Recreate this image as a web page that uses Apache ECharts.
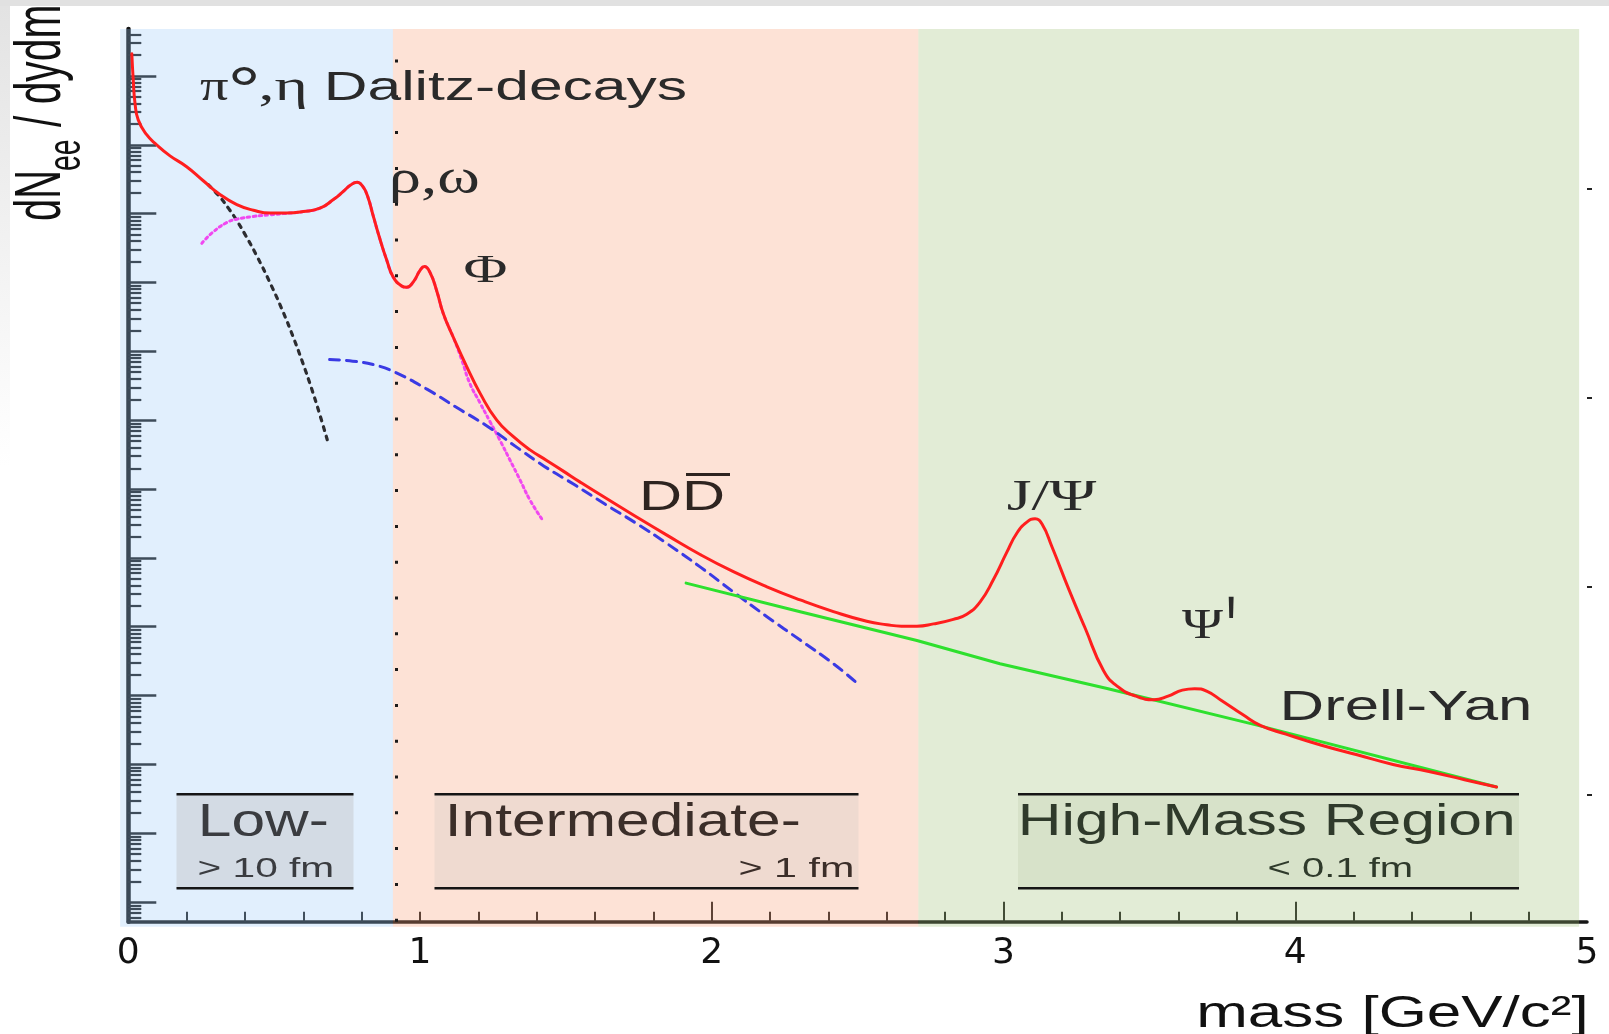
<!DOCTYPE html>
<html>
<head>
<meta charset="utf-8">
<script src="https://cdn.jsdelivr.net/npm/echarts@6.0.0/dist/echarts.min.js"></script>
<style>
html,body{margin:0;padding:0;background:#ffffff;overflow:hidden;}
#chart{width:1609px;height:1034px;}
</style>
</head>
<body>
<div id="chart"></div>
<script>
// ---------------- data ----------------
const massRange = [0, 5];                       // GeV/c^2
const xTickLabels = ['0', '1', '2', '3', '4', '5'];
const massTicksMajor = [2, 3, 4];
const yRange = [0.52, 4.8e12];                  // arbitrary units, log scale
const yDecadeTicks = [1, 1e1, 1e2, 1e3, 1e4, 1e5, 1e6, 1e7, 1e8, 1e9, 1e10, 1e11, 1e12];
const yRightTicks = [2.3e10, 2.1e7, 3.8e4, 36];
const regionEdges = [-0.028, 0.907, 2.708, 4.973];
const regionColors = ['rgba(150,200,248,0.29)', 'rgba(248,155,113,0.29)', 'rgba(155,190,114,0.29)'];
const regionBoundaryMark = 0.915;

// total dilepton spectrum (red)
const totalSpectrum = [
  [0.012,2.1e12],[0.017,8.7e11],[0.023,4.0e11],[0.034,2.3e11],[0.063,1.4e11],[0.097,1.0e11],
  [0.143,6.9e10],[0.200,4.8e10],[0.257,3.0e10],[0.314,1.9e10],[0.372,1.35e10],[0.429,1.12e10],
  [0.486,1.02e10],[0.543,1.02e10],[0.600,1.07e10],[0.657,1.2e10],[0.703,1.6e10],[0.737,2.1e10],
  [0.762,2.6e10],[0.784,2.85e10],[0.803,2.5e10],[0.820,1.8e10],[0.840,9.1e9],[0.863,4.2e9],[0.886,2.1e9],
  [0.908,1.2e9],[0.937,8.9e8],[0.954,8.5e8],[0.977,1.02e9],[1.000,1.5e9],[1.015,1.7e9],
  [1.034,1.4e9],[1.057,7.6e8],[1.080,3.5e8],[1.114,1.6e8],[1.160,6.0e7],[1.206,2.45e7],
  [1.263,1.0e7],[1.320,5.75e6],[1.377,3.7e6],[1.434,2.6e6],[1.491,1.82e6],[1.549,1.26e6],
  [1.617,8.3e5],[1.731,4.2e5],[1.846,2.14e5],[1.960,1.12e5],[2.074,6.3e4],[2.189,3.8e4],
  [2.303,2.45e4],[2.417,1.66e4],[2.531,1.2e4],[2.600,1.07e4],[2.650,1.02e4],[2.703,1.02e4],[2.760,1.1e4],
  [2.828,1.28e4],[2.874,1.52e4],[2.920,2.3e4],[2.965,4.8e4],[3.011,1.2e5],[3.046,2.3e5],
  [3.080,3.3e5],[3.108,3.7e5],[3.132,3.1e5],[3.166,1.45e5],[3.225,3.4e4],[3.280,9.5e3],
  [3.343,2.3e3],[3.392,1.35e3],[3.454,980],[3.515,870],[3.564,980],[3.613,1.2e3],
  [3.655,1.26e3],[3.698,1.15e3],[3.747,850],[3.821,525],[3.882,365],[3.968,275],
  [4.090,190],[4.212,138],[4.335,100],[4.458,79],[4.580,60],[4.690,47]
];
// pi0, eta Dalitz decays (black dotted)
const dalitzDecays = [
  [0.274,2.63e10],[0.314,1.74e10],[0.343,1.2e10],[0.372,7.9e9],[0.400,5.0e9],[0.440,2.45e9],
  [0.492,8.7e8],[0.531,3.7e8],[0.566,1.58e8],[0.598,6.8e7],[0.628,2.9e7],[0.655,1.26e7],[0.682,5.2e6]
];
// rho, omega, phi (magenta dotted)
const vectorMesons = [
  [0.252,3.7e9],[0.286,5.2e9],[0.337,7.4e9],[0.372,8.3e9],[0.429,9.1e9],[0.486,9.6e9],
  [0.531,1.0e10],[0.600,1.07e10],[0.657,1.2e10],[0.703,1.6e10],[0.737,2.1e10],[0.762,2.6e10],
  [0.784,2.85e10],[0.803,2.5e10],[0.820,1.8e10],[0.840,9.1e9],[0.863,4.2e9],[0.886,2.1e9],[0.908,1.2e9],
  [0.937,8.9e8],[0.954,8.5e8],[0.977,1.02e9],[1.000,1.5e9],[1.015,1.7e9],[1.034,1.4e9],
  [1.057,7.6e8],[1.080,3.5e8],[1.114,1.6e8],[1.143,7.5e7],[1.171,3.4e7],[1.206,1.77e7],
  [1.240,9.5e6],[1.274,5.1e6],[1.309,2.6e6],[1.343,1.35e6],[1.377,6.9e5],[1.417,3.7e5]
];
// open charm D Dbar (blue dashed)
const openCharm = [
  [0.690,7.6e7],[0.769,7.2e7],[0.847,6.3e7],[0.913,5.0e7],[1.025,2.8e7],[1.123,1.55e7],
  [1.228,8.3e6],[1.326,4.2e6],[1.425,2.15e6],[1.530,1.15e6],[1.635,6.0e5],[1.740,3.2e5],
  [1.846,1.62e5],[1.960,7.4e4],[2.074,3.2e4],[2.189,1.4e4],[2.303,6.4e3],[2.417,2.9e3],[2.495,1.55e3]
];
// Drell-Yan (green)
const drellYan = [
  [1.912,4.3e4],[2.303,1.65e4],[2.703,6.3e3],[2.988,2.9e3],[3.355,1.27e3],[3.869,372],[4.690,47]
];

// ---------------- helpers ----------------
const minorMassTicks = [];
for (let i = 1; i < 25; i++) { const v = Math.round(i * 2) / 10; if (massTicksMajor.indexOf(v) < 0) minorMassTicks.push(v); }
const yMinorTicks = [];
[0.1].concat(yDecadeTicks).forEach(function (d) { for (let j = 2; j <= 9; j++) yMinorTicks.push(+(j * d).toPrecision(3)); });
const regionData = [];
for (let i = 0; i < regionEdges.length - 1; i++) regionData.push([regionEdges[i], regionEdges[i + 1]]);

const SANS = 'Liberation Sans', SERIF = 'Liberation Serif';
const mctx = document.createElement('canvas').getContext('2d');
function measure(text, fam, size) {
  mctx.font = size + 'px "' + fam + '"';
  mctx.textBaseline = 'middle';
  return mctx.measureText(text);
}
// fit text ink into a box; vertical via baseline + reference glyph top, or via ink box
function label(text, fam, size, x0, x1, yA, yB, opt) {
  opt = opt || {};
  const m = measure(text, fam, size);
  const inkL = m.actualBoundingBoxLeft, inkW = m.actualBoundingBoxLeft + m.actualBoundingBoxRight;
  const sX = (x1 - x0) / inkW;
  let sY, y;
  if (opt.ink) {
    sY = (yB - yA) / (m.actualBoundingBoxAscent + m.actualBoundingBoxDescent);
    y = yA + m.actualBoundingBoxAscent * sY;
  } else {
    const r = measure(opt.ref || 'H', fam, size);
    sY = (yA - yB) / (r.actualBoundingBoxAscent + r.actualBoundingBoxDescent);
    y = yA - r.actualBoundingBoxDescent * sY;
  }
  return { type: 'text', x: x0 + inkL * sX, y: y, scaleX: sX, scaleY: sY, z: 100, silent: true,
    style: { text: text, fontFamily: fam, fontSize: size, fill: opt.color || '#2a2a2a', align: 'left', verticalAlign: 'middle' } };
}
// rotated (reads bottom to top)
function vlabel(text, fam, size, yStart, yEnd, baseX, topX, ref, color) {
  const m = measure(text, fam, size);
  const inkL = m.actualBoundingBoxLeft, inkW = m.actualBoundingBoxLeft + m.actualBoundingBoxRight;
  const sX = (yStart - yEnd) / inkW;
  const r = measure(ref || 'H', fam, size);
  const sY = (baseX - topX) / (r.actualBoundingBoxAscent + r.actualBoundingBoxDescent);
  return { type: 'text', x: baseX - r.actualBoundingBoxDescent * sY, y: yStart - inkL * sX,
    rotation: Math.PI / 2, scaleX: sX, scaleY: sY, z: 100, silent: true,
    style: { text: text, fontFamily: fam, fontSize: size, fill: color || '#111', align: 'left', verticalAlign: 'middle' } };
}
function box(x0, x1, y0, y1, fill) {
  return [
    { type: 'rect', z: 90, silent: true, shape: { x: x0, y: y0, width: x1 - x0, height: y1 - y0 }, style: { fill: fill } },
    { type: 'line', z: 91, silent: true, shape: { x1: x0, y1: y0, x2: x1, y2: y0 }, style: { stroke: '#151515', lineWidth: 2.5 } },
    { type: 'line', z: 91, silent: true, shape: { x1: x0, y1: y1, x2: x1, y2: y1 }, style: { stroke: '#151515', lineWidth: 2.5 } }
  ];
}

const graphics = [].concat(
  [
    { type: 'rect', z: 0, silent: true, shape: { x: 0, y: 0, width: 1609, height: 6 }, style: { fill: '#e1e1e1' } },
    { type: 'rect', z: 0, silent: true, shape: { x: 0, y: 6, width: 10, height: 460 },
      style: { fill: new echarts.graphic.LinearGradient(0, 0, 0, 1, [{ offset: 0, color: '#e3e3e3' }, { offset: 1, color: '#ffffff' }]) } }
  ],
  box(176.5, 353.5, 794.3, 888.3, '#d3dbe4'),
  box(434.5, 858.5, 794.3, 888.3, '#efdad0'),
  box(1018, 1519, 794.3, 888.3, '#d7e2c9'),
  [
    label('π', SERIF, 44, 200, 228.3, 100, 80, { ref: 'x' }),
    label('°', SANS, 60, 231.7, 256.7, 66.7, 85, { ink: true }),
    label(',η', SERIF, 44, 260, 305, 100, 80, { ref: 'x' }),
    label('Dalitz-decays', SANS, 40, 328.3, 685.5, 100, 71.7),
    label('ρ,ω', SERIF, 44, 391.7, 478.3, 193.3, 171.7, { ref: 'x' }),
    label('Φ', SERIF, 40, 465, 507, 255, 281.7, { ink: true }),
    label('DD', SANS, 42, 643.3, 723.3, 510, 480, { color: '#2e2420' }),
    { type: 'line', z: 100, silent: true, shape: { x1: 686, y1: 474.5, x2: 730, y2: 474.5 }, style: { stroke: '#2e2420', lineWidth: 3 } },
    label('J/Ψ', SERIF, 43, 1006.7, 1096.7, 510, 481.7),
    label('Ψ', SERIF, 42, 1182, 1223, 610, 638, { ink: true }),
    label("'", SANS, 60, 1228.6, 1234, 596.7, 618, { ink: true }),
    label('Drell-Yan', SANS, 42, 1284, 1529, 720, 690),
    label('Low-', SANS, 43, 202, 327, 836, 805, { color: '#3a3c40' }),
    label('> 10 fm', SANS, 27, 199, 332, 877, 858, { color: '#3a3c40' }),
    label('Intermediate-', SANS, 43, 449, 799, 836, 805, { color: '#3b2e29' }),
    label('> 1 fm', SANS, 27, 740, 852, 877, 858, { color: '#3b2e29' }),
    label('High-Mass Region', SANS, 43, 1022, 1513, 835, 805, { color: '#2f3a2b' }),
    label('< 0.1 fm', SANS, 27, 1269, 1411, 877, 858, { color: '#2f3a2b' }),
    label('mass [GeV/c²]', SANS, 44, 1199, 1585.5, 1027, 995.5, { color: '#111' }),
    vlabel('dN', SANS, 40, 220, 173, 60, 15, 'H'),
    vlabel('ee', SANS, 30, 170, 140, 80, 55, 'x'),
    vlabel('/ dydm', SANS, 40, 127, 7, 60, 15, 'H')
  ]
);

function curve(name, data, color, width, type, z, smooth) {
  return { type: 'line', name: name, data: data, xAxisIndex: 0, yAxisIndex: 0, showSymbol: false, symbol: 'none',
    smooth: smooth, silent: true, z: z, lineStyle: { color: color, width: width, type: type, cap: 'round', join: 'round' } };
}

const chart = echarts.init(document.getElementById('chart'), null, { renderer: 'canvas' });
chart.setOption({
  animation: false,
  backgroundColor: '#ffffff',
  textStyle: { fontFamily: SANS },
  grid: { left: 128.3, right: 22, top: 29, bottom: 112.3, containLabel: false, outerBoundsMode: 'none' },
  xAxis: [
    { type: 'value', min: massRange[0], max: massRange[1], interval: 1, position: 'bottom',
      axisLine: { show: true, onZero: false, lineStyle: { color: '#161616', width: 3.5 } },
      axisTick: { show: true, inside: true, length: 20, customValues: massTicksMajor, lineStyle: { color: '#1e1e1e', width: 2 } },
      axisLabel: { show: true, margin: 14, fontFamily: 'DejaVu Sans', fontSize: 36, color: '#111',
        formatter: function (v) { return xTickLabels[Math.round(v)]; } },
      splitLine: { show: false } },
    { type: 'value', min: massRange[0], max: massRange[1], interval: 1, position: 'bottom',
      axisLine: { show: false, onZero: false },
      axisTick: { show: true, inside: true, length: 10, customValues: minorMassTicks, lineStyle: { color: '#1e1e1e', width: 2 } },
      axisLabel: { show: false }, splitLine: { show: false } }
  ],
  yAxis: [
    { type: 'log', logBase: 10, min: yRange[0], max: yRange[1], position: 'left',
      axisLine: { show: true, onZero: false, lineStyle: { color: '#141414', width: 4.5 } },
      axisTick: { show: true, inside: true, length: 28, customValues: yDecadeTicks, lineStyle: { color: '#1a1a1a', width: 2.5 } },
      axisLabel: { show: false }, splitLine: { show: false } },
    { type: 'log', logBase: 10, min: yRange[0], max: yRange[1], position: 'left',
      axisLine: { show: false, onZero: false },
      axisTick: { show: true, inside: true, length: 13, customValues: yMinorTicks, lineStyle: { color: '#1a1a1a', width: 2.2 } },
      axisLabel: { show: false }, splitLine: { show: false } },
    { type: 'log', logBase: 10, min: yRange[0], max: yRange[1], position: 'right',
      axisLine: { show: false, onZero: false },
      axisTick: { show: true, inside: false, length: 5, customValues: yRightTicks, lineStyle: { color: '#222', width: 2 } },
      axisLabel: { show: false }, splitLine: { show: false } }
  ],
  series: [
    { type: 'custom', name: 'regions', xAxisIndex: 0, yAxisIndex: 0, z: 2, silent: true, data: regionData,
      renderItem: function (params, api) {
        const cs = params.coordSys;
        const a = api.coord([api.value(0), yRange[1]])[0];
        const b = api.coord([api.value(1), yRange[1]])[0];
        return { type: 'rect', shape: { x: a, y: cs.y, width: b - a, height: cs.height + 5 },
          style: { fill: regionColors[params.dataIndex] } };
      } },
    Object.assign(curve('Dalitz', dalitzDecays, '#2c2c30', 3.2, [4, 6], 3, 0.5), {
      markLine: { silent: true, symbol: ['none', 'none'], label: { show: false },
        lineStyle: { color: '#1a1a1a', width: 3, type: [3, 32.8], cap: 'butt' }, data: [{ xAxis: regionBoundaryMark }] } }),
    curve('rho-omega-phi', vectorMesons, '#f048f0', 3, [2.5, 3.5], 3, 0.5),
    curve('DDbar', openCharm, '#3a3ae4', 3, [10, 7], 3, 0.5),
    curve('Drell-Yan', drellYan, '#2ee02e', 3, 'solid', 4, false),
    curve('total', totalSpectrum, '#ff1e1e', 3, 'solid', 5, 0.5)
  ],
  graphic: { elements: graphics }
});
</script>
</body>
</html>
